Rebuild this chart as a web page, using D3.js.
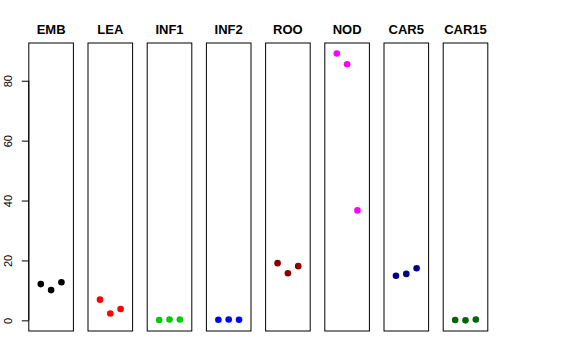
<!DOCTYPE html>
<html>
<head>
<meta charset="utf-8">
<script src="https://cdn.jsdelivr.net/npm/d3@7"></script>
<style>
  body { margin: 0; background: #fff; }
  text { font-family: "Liberation Sans", Arial, sans-serif; }
</style>
</head>
<body>
<div id="chart"></div>
<script>
// tissues, one panel each
let tissues = ["EMB", "LEA", "INF1", "INF2", "ROO", "NOD", "CAR5", "CAR15"]
let tissueColor = ["#000000", "#FF0000", "#00CD00", "#0000FF", "#8B0000", "#FF00FF", "#00008B", "#006400"]

// three replicates per tissue
let rep1 = [12.1, 6.9, 0.1, 0.2, 19.1, 89.1, 14.9, 0.1]
let rep2 = [10.1, 2.3, 0.3, 0.3, 15.7, 85.5, 15.5, 0.0]
let rep3 = [12.7, 3.8, 0.3, 0.2, 18.1, 36.7, 17.4, 0.3]

let yTicks = [0, 20, 40, 60, 80]

let width = 576
let height = 360
let plotTop = 43
let plotBottom = 331

let svg = d3.select("#chart")
    .append("svg")
    .attr("width", width)
    .attr("height", height)

let panel = d3.scaleBand()
    .domain(tissues)
    .range([28.8, 487.8])
    .paddingInner(0.2466)
    .paddingOuter(0)

let y = d3.scaleLinear()
    .domain([-3.56, 92.6])
    .range([plotBottom, plotTop])

tissues.forEach((t, i) => {
    let x0 = panel(t)
    let x = d3.scaleLinear()
        .domain([-0.16, 4.16])
        .range([x0, x0 + panel.bandwidth()])

    let g = svg.append("g")

    g.append("rect")
        .attr("x", x0)
        .attr("y", plotTop)
        .attr("width", panel.bandwidth())
        .attr("height", plotBottom - plotTop)
        .attr("fill", "none")
        .attr("stroke", "#000")
        .attr("stroke-width", 1)

    g.append("text")
        .attr("x", x0 + panel.bandwidth() / 2)
        .attr("y", 34)
        .attr("text-anchor", "middle")
        .style("font-size", "13px")
        .style("font-weight", "bold")
        .text(t)

    let vals = [rep1[i], rep2[i], rep3[i]]
    g.selectAll("circle")
        .data(vals)
        .enter()
        .append("circle")
        .attr("cx", (d, j) => x(j + 1))
        .attr("cy", d => y(d))
        .attr("r", 3.3)
        .attr("fill", tissueColor[i])
})

let axis = svg.append("g")
    .attr("transform", "translate(" + panel(tissues[0]) + ",0)")
    .call(d3.axisLeft(y).tickValues(yTicks).tickSize(7).tickSizeOuter(0))

axis.select(".domain")
    .attr("d", "M0," + y(0) + "V" + y(80))

axis.selectAll("line").attr("stroke", "#000")
axis.selectAll("text")
    .attr("x", 0)
    .attr("dy", 0)
    .attr("transform", "translate(-17,0) rotate(-90)")
    .attr("text-anchor", "middle")
    .attr("fill", "#000")
    .style("font-size", "11px")
    .style("font-family", "Liberation Sans, Arial, sans-serif")
</script>
</body>
</html>
